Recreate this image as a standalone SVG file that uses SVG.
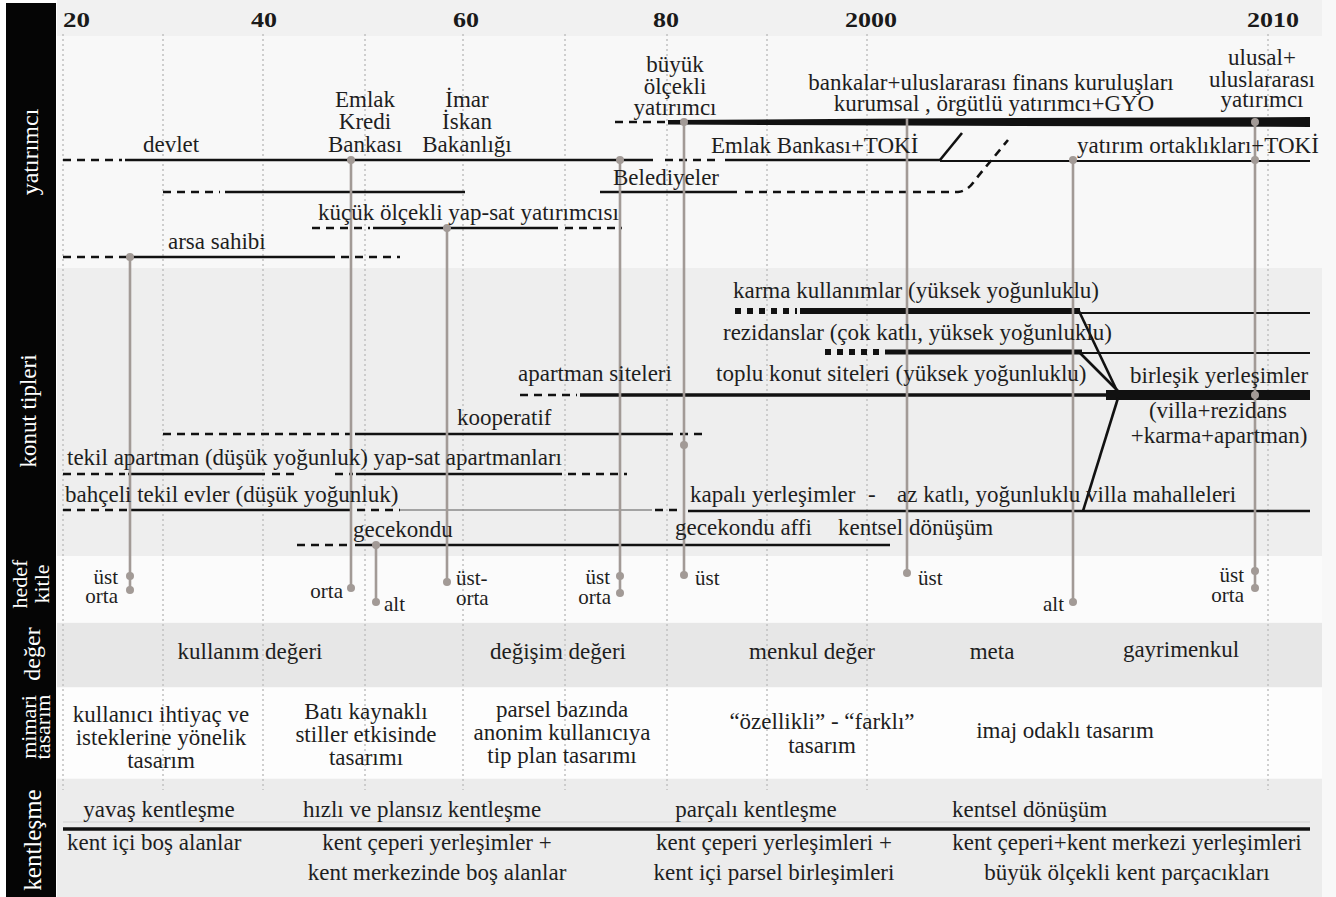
<svg xmlns="http://www.w3.org/2000/svg" width="1336" height="897" viewBox="0 0 1336 897">
<style>
.t{font-family:"Liberation Serif","Times New Roman",serif;font-size:23px;fill:#1e1e1e}
.h{font-size:21px}
.m{text-anchor:middle}
.e{text-anchor:end}
.yr{font-family:"Liberation Serif","Times New Roman",serif;font-size:21px;font-weight:bold;fill:#1a1a1a}
.side{font-family:"Liberation Serif","Times New Roman",serif;font-size:24px;fill:#ffffff;text-anchor:middle}
.grid{stroke:#c4c4c4;stroke-width:1.6;stroke-dasharray:2 3;fill:none}
.s{stroke:#111;stroke-width:2.6;fill:none}
.d{stroke:#111;stroke-width:2.6;fill:none;stroke-dasharray:8 6}
.th{stroke:#111;fill:none}
.sq{stroke:#111;stroke-width:6;fill:none;stroke-dasharray:6 6}
.thin{stroke:#111;stroke-width:2;fill:none}
.c{stroke:#a29a96;stroke-width:2.6;fill:none}
.dot{fill:#a29a96}
</style>

<g id="background">
<rect x="0" y="0" width="1336" height="897" fill="#ffffff"/>
<rect x="57" y="0" width="1279" height="897" fill="#f8f8f8"/>
<rect x="57" y="0" width="1265" height="36" fill="#f1f1f1"/>
<rect x="57" y="268" width="1265" height="288" fill="#eeeeee"/>
<rect x="57" y="556" width="1265" height="66" fill="#fbfbfb"/>
<rect x="57" y="623" width="1265" height="64" fill="#e7e7e7"/>
<rect x="57" y="688" width="1265" height="90" fill="#fdfdfd"/>
<rect x="57" y="779" width="1265" height="118" fill="#ececec"/>
<rect x="6" y="3" width="50" height="894" fill="#050505"/>
</g>

<g id="side-labels">
<text class="side" transform="translate(38,152) rotate(-90)">yatırımcı</text>
<text class="side" style="font-size:23px" transform="translate(36,411) rotate(-90)">konut tipleri</text>
<text class="side" style="font-size:22px" transform="translate(27,584) rotate(-90)">hedef</text>
<text class="side" style="font-size:22px" transform="translate(49,584) rotate(-90)">kitle</text>
<text class="side" transform="translate(40,654) rotate(-90)">değer</text>
<text class="side" style="font-size:22px" transform="translate(36,727) rotate(-90)">mimari</text>
<text class="side" style="font-size:22px" transform="translate(50,727) rotate(-90)">tasarım</text>
<text class="side" style="font-size:25px" transform="translate(41,840) rotate(-90)">kentleşme</text>
</g>

<g id="grid">
<line class="grid" x1="63" y1="34" x2="63" y2="790"/>
<line class="grid" x1="163" y1="34" x2="163" y2="790"/>
<line class="grid" x1="263" y1="34" x2="263" y2="790"/>
<line class="grid" x1="365" y1="34" x2="365" y2="790"/>
<line class="grid" x1="463" y1="34" x2="463" y2="790"/>
<line class="grid" x1="565" y1="34" x2="565" y2="790"/>
<line class="grid" x1="667" y1="34" x2="667" y2="790"/>
<line class="grid" x1="767" y1="34" x2="767" y2="790"/>
<line class="grid" x1="867" y1="34" x2="867" y2="790"/>
<line class="grid" x1="1268" y1="34" x2="1268" y2="790"/>
</g>

<g id="years">
<text class="yr" x="63" y="27" textLength="27" lengthAdjust="spacingAndGlyphs">20</text>
<text class="yr" x="251" y="27" textLength="26" lengthAdjust="spacingAndGlyphs">40</text>
<text class="yr" x="453" y="27" textLength="26" lengthAdjust="spacingAndGlyphs">60</text>
<text class="yr" x="653" y="27" textLength="26" lengthAdjust="spacingAndGlyphs">80</text>
<text class="yr" x="845" y="27" textLength="52" lengthAdjust="spacingAndGlyphs">2000</text>
<text class="yr" x="1247" y="27" textLength="52" lengthAdjust="spacingAndGlyphs">2010</text>
</g>

<g id="timelines">
<line class="d" x1="615" y1="122" x2="665" y2="122"/>
<polygon points="668,120 905,118.5 1310,117 1310,127 905,125.5 668,124.5" fill="#111"/>
<line class="d" x1="63" y1="160" x2="122" y2="160"/>
<line class="s" x1="125" y1="160" x2="653" y2="160"/>
<line class="d" x1="665" y1="160" x2="721" y2="160"/>
<line class="s" x1="725" y1="160" x2="940" y2="160"/>
<line class="s" x1="940" y1="160" x2="962" y2="133"/>
<line class="thin" x1="940" y1="161" x2="1310" y2="161"/>
<line class="d" x1="163" y1="192" x2="220" y2="192"/>
<line class="s" x1="225" y1="192" x2="465" y2="192"/>
<line class="s" x1="600" y1="192" x2="737" y2="192"/>
<path class="d" d="M745,192 H958 Q968,191 975,180 L1008,140"/>
<line class="d" x1="312" y1="228" x2="370" y2="228"/>
<line class="s" x1="373" y1="228" x2="558" y2="228"/>
<line class="d" x1="565" y1="228" x2="622" y2="228"/>
<line class="d" x1="63" y1="257" x2="127" y2="257"/>
<line class="s" x1="130" y1="257" x2="335" y2="257"/>
<line class="d" x1="341" y1="257" x2="400" y2="257"/>
<line class="sq" x1="735" y1="311" x2="797" y2="311"/>
<line class="th" stroke-width="6" x1="800" y1="311" x2="1080" y2="311"/>
<line class="thin" x1="1080" y1="313" x2="1310" y2="313"/>
<line class="s" x1="1078" y1="309" x2="1118" y2="393"/>
<line class="sq" stroke-width="5" x1="825" y1="352" x2="880" y2="352"/>
<line class="th" stroke-width="5" x1="885" y1="352" x2="1082" y2="352"/>
<line class="thin" x1="1082" y1="353" x2="1310" y2="353"/>
<line class="s" x1="1080" y1="353" x2="1118" y2="391"/>
<line class="d" stroke-width="3.5" x1="520" y1="395" x2="577" y2="395"/>
<line class="th" stroke-width="3.5" x1="580" y1="395" x2="1108" y2="395"/>
<line class="th" stroke-width="10" x1="1106" y1="395" x2="1310" y2="395"/>
<line class="s" x1="1083" y1="511" x2="1118" y2="398"/>
<line class="d" x1="163" y1="434" x2="352" y2="434"/>
<line class="s" x1="355" y1="434" x2="673" y2="434"/>
<line class="d" x1="680" y1="434" x2="706" y2="434"/>
<line class="d" x1="63" y1="474" x2="125" y2="474"/>
<line class="s" x1="128" y1="474" x2="265" y2="474"/>
<line class="d" x1="272" y1="474" x2="297" y2="474"/>
<line class="d" x1="335" y1="474" x2="353" y2="474"/>
<line class="s" x1="356" y1="474" x2="562" y2="474"/>
<line class="d" x1="568" y1="474" x2="627" y2="474"/>
<line class="d" x1="63" y1="510" x2="127" y2="510"/>
<line class="s" x1="130" y1="510" x2="352" y2="510"/>
<line class="d" x1="357" y1="510" x2="400" y2="510"/>
<line stroke="#8a8a8a" stroke-width="1.3" x1="400" y1="510" x2="652" y2="510"/>
<line class="d" x1="655" y1="510" x2="682" y2="510"/>
<line class="s" x1="688" y1="511" x2="1310" y2="511"/>
<line class="d" x1="297" y1="545" x2="352" y2="545"/>
<line class="s" x1="355" y1="545" x2="890" y2="545"/>
<line stroke="#cfcfcf" stroke-width="1.2" x1="63" y1="822" x2="1310" y2="822"/>
<line class="th" stroke-width="3.5" x1="63" y1="829" x2="1310" y2="829"/>
</g>

<g id="connectors">
<line class="c" x1="130" y1="257" x2="130" y2="590"/>
<line class="c" x1="351" y1="160" x2="351" y2="588"/>
<line class="c" x1="376" y1="545" x2="376" y2="602"/>
<line class="c" x1="447" y1="228" x2="447" y2="582"/>
<line class="c" x1="620" y1="160" x2="620" y2="593"/>
<line class="c" x1="684" y1="122" x2="684" y2="575"/>
<line class="c" x1="907" y1="118" x2="907" y2="573"/>
<line class="c" x1="1073" y1="160" x2="1073" y2="602"/>
<line class="c" x1="1255" y1="122" x2="1255" y2="588"/>
<circle class="dot" cx="130" cy="257" r="4"/>
<circle class="dot" cx="130" cy="576" r="4"/>
<circle class="dot" cx="130" cy="590" r="4"/>
<circle class="dot" cx="351" cy="160" r="4"/>
<circle class="dot" cx="351" cy="588" r="4"/>
<circle class="dot" cx="376" cy="545" r="4"/>
<circle class="dot" cx="376" cy="602" r="4"/>
<circle class="dot" cx="447" cy="228" r="4"/>
<circle class="dot" cx="447" cy="582" r="4"/>
<circle class="dot" cx="620" cy="160" r="4"/>
<circle class="dot" cx="620" cy="576" r="4"/>
<circle class="dot" cx="620" cy="593" r="4"/>
<circle class="dot" cx="684" cy="122" r="4"/>
<circle class="dot" cx="684" cy="445" r="4"/>
<circle class="dot" cx="684" cy="575" r="4"/>
<circle class="dot" cx="907" cy="573" r="4"/>
<circle class="dot" cx="1073" cy="160" r="4"/>
<circle class="dot" cx="1073" cy="602" r="4"/>
<circle class="dot" cx="1255" cy="122" r="4"/>
<circle class="dot" cx="1255" cy="160" r="4"/>
<circle class="dot" cx="1255" cy="395" r="4"/>
<circle class="dot" cx="1255" cy="571" r="4"/>
<circle class="dot" cx="1255" cy="588" r="4"/>
</g>

<g id="yatirimci-labels">
<text class="t" x="143" y="152">devlet</text>
<text class="t m" x="365" y="107">Emlak</text>
<text class="t m" x="365" y="129">Kredi</text>
<text class="t m" x="365" y="152">Bankası</text>
<text class="t m" x="467" y="107">İmar</text>
<text class="t m" x="467" y="129">İskan</text>
<text class="t m" x="467" y="152">Bakanlığı</text>
<text class="t m" x="675" y="72">büyük</text>
<text class="t m" x="675" y="94">ölçekli</text>
<text class="t m" x="675" y="115">yatırımcı</text>
<text class="t m" x="991" y="90">bankalar+uluslararası finans kuruluşları</text>
<text class="t m" x="994" y="111">kurumsal , örgütlü yatırımcı+GYO</text>
<text class="t m" x="1262" y="65">ulusal+</text>
<text class="t m" x="1262" y="87">uluslararası</text>
<text class="t m" x="1262" y="107">yatırımcı</text>
<text class="t" x="711" y="153">Emlak Bankası+TOKİ</text>
<text class="t" x="1077" y="153">yatırım ortaklıkları+TOKİ</text>
<text class="t" x="613" y="185">Belediyeler</text>
<text class="t" x="318" y="220">küçük ölçekli yap-sat yatırımcısı</text>
<text class="t" x="168" y="249">arsa sahibi</text>
</g>

<g id="konut-labels">
<text class="t" x="733" y="298">karma kullanımlar (yüksek yoğunluklu)</text>
<text class="t" x="723" y="340">rezidanslar (çok katlı, yüksek yoğunluklu)</text>
<text class="t" x="518" y="381">apartman siteleri</text>
<text class="t" x="716" y="381">toplu konut siteleri (yüksek yoğunluklu)</text>
<text class="t" x="1130" y="383">birleşik yerleşimler</text>
<text class="t m" x="1218" y="418">(villa+rezidans</text>
<text class="t m" x="1219" y="443">+karma+apartman)</text>
<text class="t" x="457" y="425">kooperatif</text>
<text class="t" x="67" y="465">tekil apartman (düşük yoğunluk) yap-sat apartmanları</text>
<text class="t" x="65" y="502">bahçeli tekil evler (düşük yoğunluk)</text>
<text class="t" x="690" y="502">kapalı yerleşimler</text>
<text class="t" x="868" y="502">-</text>
<text class="t" x="897" y="502">az katlı, yoğunluklu villa mahalleleri</text>
<text class="t" x="353" y="537">gecekondu</text>
<text class="t" x="675" y="535">gecekondu affi</text>
<text class="t" x="838" y="535">kentsel dönüşüm</text>
</g>

<g id="hedef-labels">
<text class="t h e" x="118" y="584">üst</text>
<text class="t h e" x="118" y="603">orta</text>
<text class="t h e" x="343" y="598">orta</text>
<text class="t h" x="384" y="611">alt</text>
<text class="t h" x="456" y="585">üst-</text>
<text class="t h" x="456" y="605">orta</text>
<text class="t h e" x="610" y="584">üst</text>
<text class="t h e" x="611" y="604">orta</text>
<text class="t h" x="695" y="585">üst</text>
<text class="t h" x="918" y="585">üst</text>
<text class="t h" x="1043" y="611">alt</text>
<text class="t h e" x="1244" y="582">üst</text>
<text class="t h e" x="1244" y="602">orta</text>
</g>

<g id="deger-labels">
<text class="t m" x="250" y="659">kullanım değeri</text>
<text class="t m" x="558" y="659">değişim değeri</text>
<text class="t m" x="812" y="659">menkul değer</text>
<text class="t m" x="992" y="659">meta</text>
<text class="t m" x="1181" y="657">gayrimenkul</text>
</g>

<g id="mimari-labels">
<text class="t m" x="161" y="722">kullanıcı ihtiyaç ve</text>
<text class="t m" x="161" y="745">isteklerine yönelik</text>
<text class="t m" x="161" y="768">tasarım</text>
<text class="t m" x="366" y="719">Batı kaynaklı</text>
<text class="t m" x="366" y="742">stiller etkisinde</text>
<text class="t m" x="366" y="765">tasarımı</text>
<text class="t m" x="562" y="717">parsel bazında</text>
<text class="t m" x="562" y="740">anonim kullanıcıya</text>
<text class="t m" x="562" y="763">tip plan tasarımı</text>
<text class="t m" x="822" y="729">“özellikli” - “farklı”</text>
<text class="t m" x="822" y="753">tasarım</text>
<text class="t m" x="1065" y="738">imaj odaklı tasarım</text>
</g>

<g id="kentlesme-labels">
<text class="t m" x="159" y="817">yavaş kentleşme</text>
<text class="t m" x="422" y="817">hızlı ve plansız kentleşme</text>
<text class="t m" x="756" y="817">parçalı kentleşme</text>
<text class="t" x="952" y="817">kentsel dönüşüm</text>
<text class="t" x="67" y="850">kent içi boş alanlar</text>
<text class="t m" x="437" y="850">kent çeperi yerleşimler +</text>
<text class="t m" x="437" y="880">kent merkezinde boş alanlar</text>
<text class="t m" x="774" y="850">kent çeperi yerleşimleri +</text>
<text class="t m" x="774" y="880">kent içi parsel birleşimleri</text>
<text class="t m" x="1127" y="850">kent çeperi+kent merkezi yerleşimleri</text>
<text class="t m" x="1127" y="880">büyük ölçekli kent parçacıkları</text>
</g>
</svg>
